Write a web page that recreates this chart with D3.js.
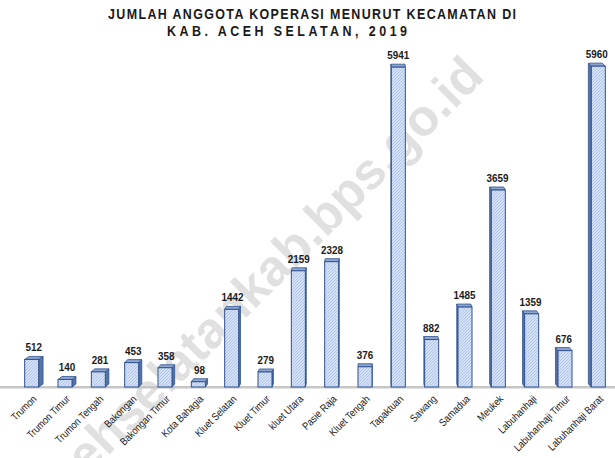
<!DOCTYPE html>
<html>
<head>
<meta charset="utf-8">
<script src="https://cdnjs.cloudflare.com/ajax/libs/d3/7.8.5/d3.min.js"></script>
<style>
  body { margin: 0; background: #fff; }
  svg { display: block; }
</style>
</head>
<body>
<div id="chart"></div>
<script>
// data
var kecamatan = ["Trumon", "Trumon Timur", "Trumon Tengah", "Bakongan", "Bakongan Timur",
	"Kota Bahagia", "Kluet Selatan", "Kluet Timur", "kluet Utara", "Pasie Raja",
	"Kluet Tengah", "Tapaktuan", "Sawang", "Samadua", "Meukek", "Labuhanhaji",
	"Labuhanhaji Timur", "Labuhanhaji Barat"];
var anggota = [512, 140, 281, 453, 358, 98, 1442, 279, 2159, 2328, 376, 5941, 882, 1485, 3659, 1359, 676, 5960];
var titleLines = ["JUMLAH ANGGOTA KOPERASI MENURUT KECAMATAN DI", "KAB. ACEH SELATAN, 2019"];
var watermark = "acehselatankab.bps.go.id";

var cfg = {
	w: 615,
	h: 458,
	baseY: 387,       // floor of the chart
	topY: 64,         // y of the max domain value
	left: 15,
	right: 615,
	yMax: 6000,
	vanishX: 370,     // perspective centre for side faces
	persp: 0.013,
	depth: 3,
	front: "#2f528f",
	topFill: "#8da5cf",
	sideFill: "#5873a6",
	narrow: 0.86      // horizontal squeeze to mimic a narrow font
};

var svg = d3.select("#chart")
	.append("svg")
	.attr("width", cfg.w)
	.attr("height", cfg.h);

// hatch pattern for the bar fronts
var pat = svg.append("defs").append("pattern")
	.attr("id", "hatch")
	.attr("patternUnits", "userSpaceOnUse")
	.attr("width", 3)
	.attr("height", 3);
pat.append("rect").attr("width", 3).attr("height", 3).attr("fill", "#d4e1f7");
pat.append("path")
	.attr("d", "M-1,1 l2,-2 M0,3 l3,-3 M2,4 l2,-2")
	.attr("stroke", "#a3bbe3")
	.attr("stroke-width", 0.8);

// watermark behind everything
svg.append("text")
	.attr("transform", "translate(486,78) rotate(-45)")
	.attr("text-anchor", "end")
	.attr("font-family", "'Liberation Sans', Arial, sans-serif")
	.attr("font-weight", "bold")
	.attr("font-size", 51)
	.attr("fill", "#e0e0e0")
	.text(watermark);

// title
var titleX = [312, 287];
var titleW = [408, 240];
svg.selectAll(".title")
	.data(titleLines)
	.enter().append("text")
	.attr("class", "title")
	.attr("transform", function(d, i) {
		return "translate(" + titleX[i] + "," + (19 + i * 16.5) + ") scale(" + cfg.narrow + ",1)";
	})
	.attr("text-anchor", "middle")
	.attr("textLength", function(d, i) { return titleW[i] / cfg.narrow; })
	.attr("lengthAdjust", "spacing")
	.attr("font-family", "'Liberation Sans', Arial, sans-serif")
	.attr("font-weight", "bold")
	.attr("font-size", 14.5)
	.attr("fill", "#1a1a1a")
	.text(function(d) { return d; });

// scales
var x = d3.scaleBand()
	.domain(kecamatan)
	.range([cfg.left, cfg.right])
	.paddingInner(0.58)
	.paddingOuter(0.29);

var y = d3.scaleLinear()
	.domain([0, cfg.yMax])
	.range([cfg.baseY, cfg.topY]);

var bw = x.bandwidth();

// floor
svg.append("rect")
	.attr("x", 0)
	.attr("y", y(0) - 1)
	.attr("width", cfg.w)
	.attr("height", 2.5)
	.attr("fill", "#c6c6c6");

var rows = kecamatan.map(function(k, i) { return {name: k, value: anggota[i]}; });

var bar = svg.selectAll(".bar")
	.data(rows)
	.enter().append("g")
	.attr("class", "bar");

function offX(d) { return (cfg.vanishX - (x(d.name) + bw / 2)) * cfg.persp; }

// side face
bar.append("path")
	.attr("fill", cfg.sideFill)
	.attr("stroke", cfg.front)
	.attr("stroke-width", 0.8)
	.attr("d", function(d) {
		var dx = offX(d);
		var ex = dx >= 0 ? x(d.name) + bw : x(d.name);
		var yt = y(d.value), yb = y(0);
		return "M" + ex + "," + yb + "L" + ex + "," + yt +
			"L" + (ex + dx) + "," + (yt - cfg.depth) + "L" + (ex + dx) + "," + (yb - cfg.depth) + "Z";
	});

// top face
bar.append("path")
	.attr("fill", cfg.topFill)
	.attr("stroke", cfg.front)
	.attr("stroke-width", 0.8)
	.attr("d", function(d) {
		var dx = offX(d);
		var x0 = x(d.name), x1 = x0 + bw, yt = y(d.value);
		return "M" + x0 + "," + yt + "L" + x1 + "," + yt +
			"L" + (x1 + dx) + "," + (yt - cfg.depth) + "L" + (x0 + dx) + "," + (yt - cfg.depth) + "Z";
	});

// front face
bar.append("rect")
	.attr("x", function(d) { return x(d.name); })
	.attr("y", function(d) { return y(d.value); })
	.attr("width", bw)
	.attr("height", function(d) { return y(0) - y(d.value); })
	.attr("fill", "url(#hatch)")
	.attr("stroke", cfg.front)
	.attr("stroke-width", 1);

// value labels
bar.append("text")
	.attr("transform", function(d) {
		return "translate(" + (x(d.name) + bw / 2 + offX(d) / 2) + "," + (y(d.value) - cfg.depth - 5) +
			") scale(" + cfg.narrow + ",1)";
	})
	.attr("text-anchor", "middle")
	.attr("font-family", "'Liberation Sans', Arial, sans-serif")
	.attr("font-weight", "bold")
	.attr("font-size", 11.5)
	.attr("fill", "#1a1a1a")
	.text(function(d) { return d.value; });

// category labels
svg.selectAll(".cat")
	.data(kecamatan)
	.enter().append("text")
	.attr("class", "cat")
	.attr("transform", function(d) {
		return "translate(" + (x(d) + bw / 2 + 3) + "," + (cfg.baseY + 10) + ") rotate(-45) scale(" + cfg.narrow + ",1)";
	})
	.attr("text-anchor", "end")
	.attr("dy", "0.35em")
	.attr("font-family", "'Liberation Sans', Arial, sans-serif")
	.attr("font-size", 10.5)
	.attr("fill", "#1a1a1a")
	.text(function(d) { return d; });
</script>
</body>
</html>
